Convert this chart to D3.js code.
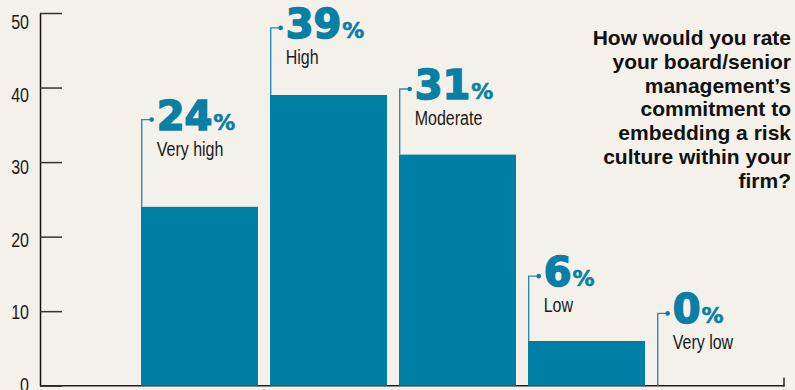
<!DOCTYPE html>
<html lang="en">
<head>
    <meta charset="UTF-8">
    <title>Risk culture commitment</title>
    <script src="https://d3js.org/d3.v7.min.js"></script>
    <style>
        html, body { margin: 0; padding: 0; background: #f4f1ea; }
        svg { display: block; background: #f4f1ea; }
        .narrow { font-family: "Liberation Sans", Arial, sans-serif; }
        .cat { fill: #1a1a1a; font-size: 20px; }
        .pct { font-family: "DejaVu Sans", sans-serif; font-weight: bold; fill: #0a7fa6; }
        .title { font-family: "Liberation Sans", Arial, sans-serif; font-weight: bold; font-size: 21px; fill: #111; }
    </style>
</head>
<body>
<script>
    const categories = ["Very high", "High", "Moderate", "Low", "Very low"];
    const values = [24, 39, 31, 6, 0];
    const tickValues = [0, 10, 20, 30, 40, 50];
    const titleLines = ["How would you rate", "your board/senior", "management\u2019s",
        "commitment to", "embedding a risk", "culture within your", "firm?"];

    // layout: how far (in % units) each label sits above its bar
    const leaderLift = [11.7, 9, 8.8, 8.7, 9.7];

    const width = 795;
    const height = 390;
    const barColor = "#007fa6";
    const squeeze = 0.8; // fake a narrow face, none is installed

    const svg = d3.select("body").append("svg")
            .attr("width", width).attr("height", height);

    const y = d3.scaleLinear().domain([0, 50]).range([385.7, 13]);
    // tick labels sit on a slightly tighter grid than the ticks themselves
    const yLabel = d3.scaleLinear().domain([0, 50]).range([385, 22]);
    const x = d3.scaleBand().domain(categories)
            .range([135, 780]).paddingInner(0.093).paddingOuter(0.0465);

    // x axis baseline
    svg.append("line")
            .attr("x1", 40).attr("x2", 784)
            .attr("y1", y(0)).attr("y2", y(0))
            .style("stroke", "#222").style("stroke-width", 1.5);
    svg.append("line")
            .attr("x1", 784).attr("x2", 784)
            .attr("y1", y(0) - 8).attr("y2", y(0) + 1)
            .style("stroke", "#222").style("stroke-width", 1.5);

    // y axis ticks
    const yAxis = svg.append("g")
            .attr("transform", "translate(40,0)")
            .call(d3.axisRight(y).tickValues(tickValues).tickSizeInner(22).tickSizeOuter(0).tickFormat(""));
    yAxis.select(".domain").style("stroke", "#111").style("stroke-width", 1.5);
    yAxis.selectAll(".tick line").style("stroke", "#333").style("stroke-width", 1.5);

    const yLabels = svg.append("g")
            .attr("class", "narrow")
            .attr("transform", "translate(40,0)")
            .call(d3.axisLeft(yLabel).tickValues(tickValues).tickSize(0).tickPadding(11));
    yLabels.select(".domain").remove();
    yLabels.selectAll("text")
            .attr("x", -11 / squeeze)
            .attr("transform", `scale(${squeeze},1)`)
            .style("font-family", "Liberation Sans, Arial, sans-serif")
            .style("font-size", "20px")
            .style("fill", "#1a1a1a");

    const data = categories.map((c, i) => ({cat: c, value: values[i], lift: leaderLift[i]}));

    svg.selectAll("rect.bar")
            .data(data)
            .enter().append("rect")
            .attr("class", "bar")
            .attr("x", d => x(d.cat))
            .attr("width", x.bandwidth())
            .attr("y", d => y(d.value))
            .attr("height", d => y(0) - y(d.value))
            .style("fill", barColor);

    const lab = svg.selectAll("g.lab")
            .data(data)
            .enter().append("g")
            .attr("class", "lab")
            .attr("transform", d => `translate(${x(d.cat) + 0.7},0)`);

    lab.append("path")
            .attr("d", d => `M0,${y(d.value)}V${y(d.value + d.lift)}H10`)
            .style("fill", "none")
            .style("stroke", "#2a8db3")
            .style("stroke-width", 1.4);

    lab.append("circle")
            .attr("cx", 10)
            .attr("cy", d => y(d.value + d.lift))
            .attr("r", 2.3)
            .style("fill", "#0a7fa6");

    const pct = lab.append("text")
            .attr("class", "pct")
            .attr("x", 15)
            .attr("y", d => y(d.value + d.lift) + 10);
    pct.append("tspan")
            .style("font-size", "40px")
            .style("stroke", "#0a7fa6").style("stroke-width", 1.6)
            .text(d => d.value);
    pct.append("tspan")
            .style("font-size", "22px")
            .style("stroke", "#0a7fa6").style("stroke-width", 0.6)
            .attr("dx", 1)
            .text("%");

    lab.append("text")
            .attr("class", "cat narrow")
            .attr("x", 15 / squeeze)
            .attr("y", d => y(d.value + d.lift) + 36)
            .attr("transform", `scale(${squeeze},1)`)
            .text(d => d.cat);

    svg.append("g").selectAll("text")
            .data(titleLines)
            .enter().append("text")
            .attr("class", "title")
            .attr("text-anchor", "end")
            .attr("x", 791)
            .attr("y", (d, i) => 45 + i * 23.8)
            .text(d => d);
</script>
</body>
</html>
